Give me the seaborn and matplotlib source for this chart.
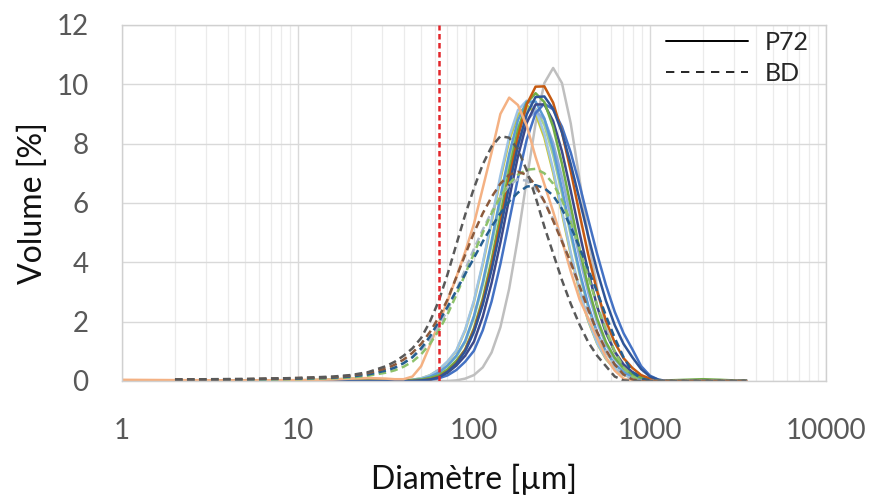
import numpy as np
import pandas as pd
import matplotlib
matplotlib.use("Agg")
import matplotlib.pyplot as plt
import seaborn as sns
from matplotlib.lines import Line2D
from matplotlib.ticker import LogLocator, NullFormatter

sns.set_style("white")
plt.rcParams['font.family'] = ['Lato', 'DejaVu Sans']

# Diamètres (µm) - grille commune à toutes les courbes
diametre_um = [1.0, 2.0, 5.0, 10.0, 15.8, 20.0, 25.1, 31.6, 35.5, 39.8, 44.7,
               50.1, 56.2, 63.1, 70.8, 79.4, 89.1, 100.0, 112.2, 125.9, 141.3,
               158.5, 177.8, 199.5, 223.9, 251.2, 281.8, 316.2, 354.8, 398.1,
               446.7, 501.2, 562.3, 631.0, 707.9, 794.3, 891.3, 1000.0, 1122.0,
               1259.0, 1585.0, 1995.0, 2512.0, 3548.0]

nan = np.nan

# P72 (traits pleins), volume [%]
p72_gris = [0, 0, 0, 0, 0, 0, 0, 0, 0, 0, 0, 0, 0, 0, 0, 0.02, 0.08, 0.20, 0.46, 0.96, 1.81,
            3.11, 4.83, 6.79, 8.68, 10.04, 10.55, 10.04, 8.68, 6.79, 4.83, 3.11, 1.81, 0.96,
            0.46, 0.20, 0.08, 0.02, 0, 0, 0, 0, 0, 0]
p72_orange = [0, 0, 0, 0, 0, 0, 0, 0, 0, 0, 0, 0.02, 0.05, 0.14, 0.32, 0.60, 1.05, 1.72, 2.67,
              3.89, 5.31, 6.82, 8.23, 9.32, 9.92, 9.93, 9.38, 8.38, 7.07, 5.63, 4.24, 3.02, 2.03,
              1.29, 0.77, 0.44, 0.20, 0.08, 0.02, 0, 0, 0, 0, 0]
p72_bleu_fonce = [0, 0, 0, 0, 0, 0, 0, 0, 0, 0, 0, 0.02, 0.05, 0.12, 0.31, 0.58, 1.01, 1.66, 2.58,
                  3.75, 5.12, 6.58, 7.94, 8.99, 9.57, 9.59, 9.17, 8.38, 7.31, 6.11, 4.87, 3.71,
                  2.70, 1.88, 1.25, 0.80, 0.40, 0.15, 0.04, 0, 0, 0, 0, 0]
p72_vert = [0, 0, 0.01, 0.02, 0.05, 0.08, 0.06, 0.03, 0.02, 0.02, 0.03, 0.05, 0.10, 0.19, 0.39,
            0.68, 1.06, 1.78, 2.78, 4.08, 5.58, 7.10, 8.45, 9.37, 9.70, 9.40, 8.56, 7.32, 5.89,
            4.44, 3.15, 2.10, 1.31, 0.78, 0.43, 0.22, 0.11, 0.04, 0.02, 0.02, 0.04, 0.06, 0.04, 0]
p72_saumon = [0.04, 0.03, 0.02, 0.03, 0.05, 0.08, 0.10, 0.08, 0.06, 0.06, 0.15, 0.50, 1.20, 1.95,
              2.70, 3.50, 4.35, 5.30, 6.50, 7.70, 9.00, 9.55, 9.30, 8.60, 7.55, 6.63, 5.71, 4.74,
              3.69, 2.75, 2.10, 1.45, 0.80, 0.35, 0.08, 0, 0, 0, 0, 0, 0, 0, 0, 0]
p72_bleu_clair = [0, 0, 0, 0, 0, 0, 0, 0, 0, 0.02, 0.04, 0.09, 0.19, 0.38, 0.66, 1.03, 1.73, 2.71,
                  3.98, 5.43, 6.92, 8.23, 9.13, 9.45, 9.16, 8.33, 7.13, 5.74, 4.33, 3.07, 2.04,
                  1.28, 0.76, 0.42, 0.22, 0.10, 0.04, 0.01, 0, 0, 0, 0, 0, 0]
p72_bleu_moyen = [0, 0, 0, 0, 0, 0, 0, 0, 0, 0.01, 0.03, 0.06, 0.14, 0.28, 0.52, 0.85, 1.35, 2.19,
                  3.33, 4.71, 6.21, 7.65, 8.79, 9.41, 9.42, 8.85, 7.82, 6.48, 5.04, 3.70, 2.54,
                  1.63, 1.00, 0.57, 0.30, 0.15, 0.06, 0.02, 0, 0, 0, 0, 0, 0]
p72_marine = [0, 0, 0, 0, 0, 0, 0, 0, 0, 0, 0, 0.03, 0.06, 0.14, 0.28, 0.52, 0.85, 1.33, 2.17,
              3.30, 4.66, 6.15, 7.57, 8.70, 9.32, 9.32, 8.76, 7.74, 6.41, 4.99, 3.66, 2.51, 1.62,
              0.99, 0.56, 0.30, 0.15, 0.06, 0.02, 0, 0, 0, 0, 0]
p72_olive = [0, 0, 0, 0, 0, 0, 0, 0, 0, 0.02, 0.04, 0.09, 0.19, 0.37, 0.65, 1.01, 1.70, 2.67, 3.92,
             5.35, 6.81, 8.10, 8.98, 9.30, 9.01, 8.20, 7.02, 5.65, 4.26, 3.02, 2.01, 1.26, 0.74,
             0.41, 0.21, 0.10, 0.04, 0.01, 0, 0, 0, 0, 0, 0]
p72_vert_clair = [0, 0, 0, 0, 0, 0, 0, 0, 0, 0.01, 0.03, 0.06, 0.14, 0.28, 0.51, 0.83, 1.31, 2.14,
                  3.24, 4.59, 6.05, 7.45, 8.56, 9.17, 9.18, 8.62, 7.61, 6.31, 4.91, 3.60, 2.47,
                  1.59, 0.97, 0.56, 0.30, 0.15, 0.06, 0.02, 0, 0, 0, 0, 0, 0]
p72_bleu_gris = [0, 0, 0, 0, 0, 0, 0, 0, 0, 0, 0.02, 0.04, 0.09, 0.18, 0.36, 0.64, 0.99, 1.67, 2.61,
                 3.83, 5.23, 6.66, 7.93, 8.79, 9.10, 8.82, 8.03, 6.87, 5.52, 4.17, 2.96, 1.97, 1.23,
                 0.73, 0.40, 0.21, 0.10, 0.04, 0.01, 0, 0, 0, 0, 0]
p72_bleu = [0, 0, 0, 0, 0, 0, 0, 0, 0, 0, 0, 0.02, 0.04, 0.09, 0.19, 0.37, 0.65, 1.02, 1.71, 2.68,
            3.94, 5.38, 6.84, 8.14, 9.03, 9.35, 9.15, 8.57, 7.70, 6.61, 5.43, 4.28, 3.23, 2.33,
            1.61, 1.07, 0.50, 0.18, 0.04, 0, 0, 0, 0, 0]

# BD (pointillés), volume [%]
bd_gris_fonce = [nan, 0.05, 0.07, 0.10, 0.15, 0.20, 0.30, 0.50, 0.65, 0.85, 1.10, 1.45, 2.00, 2.70,
                 3.60, 4.60, 5.60, 6.50, 7.30, 7.90, 8.25, 8.20, 7.80, 7.10, 6.20, 5.20, 4.30, 3.40,
                 2.60, 1.90, 1.30, 0.85, 0.50, 0.15, 0.02, 0, 0, 0, 0, 0, 0, 0, 0, 0]
bd_brun = [nan, 0.05, 0.06, 0.10, 0.13, 0.18, 0.27, 0.42, 0.55, 0.72, 0.95, 1.25, 1.65, 2.15, 2.75,
           3.50, 4.25, 5.00, 5.65, 6.20, 6.65, 6.95, 7.05, 6.95, 6.60, 6.05, 5.40, 4.70, 4.00, 3.20,
           2.40, 1.65, 1.05, 0.55, 0.22, 0.05, 0, 0, 0, 0, 0, 0, 0, 0]
bd_vert = [nan, 0.03, 0.04, 0.06, 0.09, 0.12, 0.18, 0.28, 0.36, 0.48, 0.65, 0.90, 1.25, 1.70, 2.25,
           2.90, 3.60, 4.30, 5.00, 5.65, 6.20, 6.65, 6.95, 7.12, 7.15, 7.00, 6.65, 6.10, 5.35, 4.45,
           3.50, 2.55, 1.70, 1.00, 0.45, 0.15, 0.03, 0, 0, 0, 0, 0, 0, 0]
bd_bleu = [nan, 0.04, 0.05, 0.08, 0.11, 0.15, 0.22, 0.35, 0.45, 0.60, 0.80, 1.10, 1.50, 2.00, 2.50,
           3.05, 3.60, 4.15, 4.70, 5.20, 5.65, 6.05, 6.35, 6.55, 6.60, 6.50, 6.25, 5.80, 5.20, 4.50,
           3.75, 3.00, 2.20, 1.45, 0.80, 0.30, 0.08, 0.02, 0, 0, 0, 0, 0, 0]
bd_gris_clair = [nan, 0.04, 0.05, 0.08, 0.11, 0.15, 0.22, 0.35, 0.46, 0.60, 0.80, 1.05, 1.40, 1.85,
                 2.40, 3.05, 3.75, 4.45, 5.10, 5.70, 6.20, 6.60, 6.80, 6.75, 6.50, 6.05, 5.45, 4.75,
                 3.95, 3.15, 2.35, 1.60, 1.00, 0.50, 0.20, 0.05, 0, 0, 0, 0, 0, 0, 0, 0]

courbes = [
    ("P72 a", "P72", "#BFBFBF", p72_gris),
    ("P72 b", "P72", "#A9D18E", p72_vert_clair),
    ("P72 c", "P72", "#C8C83C", p72_olive),
    ("P72 d", "P72", "#9DC3E6", p72_bleu_clair),
    ("P72 e", "P72", "#8FAADC", p72_bleu_gris),
    ("P72 f", "P72", "#5B9BD5", p72_bleu_moyen),
    ("P72 g", "P72", "#4472C4", p72_bleu),
    ("P72 h", "P72", "#3C4A8C", p72_marine),
    ("P72 i", "P72", "#70AD47", p72_vert),
    ("P72 j", "P72", "#C55A11", p72_orange),
    ("P72 k", "P72", "#2F5597", p72_bleu_fonce),
    ("P72 l", "P72", "#F4B183", p72_saumon),
    ("BD a", "BD", "#ADB9CA", bd_gris_clair),
    ("BD b", "BD", "#8DC16B", bd_vert),
    ("BD c", "BD", "#255E91", bd_bleu),
    ("BD d", "BD", "#8C5A3C", bd_brun),
    ("BD e", "BD", "#595959", bd_gris_fonce),
]

rows = []
for nom, serie, couleur, valeurs in courbes:
    for d, v in zip(diametre_um, valeurs):
        rows.append((nom, serie, d, v))
df = pd.DataFrame(rows, columns=["courbe", "serie", "d", "v"]).dropna()
palette = {nom: couleur for nom, _, couleur, _ in courbes}

fig, ax = plt.subplots(figsize=(8.74, 4.99), dpi=100)
fig.subplots_adjust(left=0.1396, right=0.945, bottom=0.2365, top=0.95)

sns.lineplot(data=df, x="d", y="v", hue="courbe", style="serie",
             hue_order=[c[0] for c in courbes], palette=palette,
             dashes={"P72": "", "BD": (3, 1.8)}, linewidth=1.8,
             estimator=None, sort=True, legend=False, ax=ax)

ax.axvline(63, color="#E3262B", ls=(0, (2.2, 1.4)), lw=1.8, zorder=10)

ax.set_xscale("log")
ax.set_xlim(1, 10000)
ax.set_ylim(0, 12)
ax.set_yticks(range(0, 13, 2))
ax.set_xticks([1, 10, 100, 1000, 10000])
ax.set_xticklabels(["1", "10", "100", "1000", "10000"])
ax.xaxis.set_minor_locator(LogLocator(base=10, subs=np.arange(2, 10)))
ax.xaxis.set_minor_formatter(NullFormatter())

ax.grid(which="major", color="#D9D9D9", lw=1.0)
ax.grid(which="minor", axis="x", color="#EBEBEB", lw=0.9)
ax.set_axisbelow(True)
for sp in ax.spines.values():
    sp.set_color("#D0D0D0")
    sp.set_linewidth(1.0)

ax.tick_params(axis="both", which="both", length=0, labelsize=20, labelcolor="#595959")
ax.tick_params(axis="x", pad=27)
ax.tick_params(axis="y", pad=24)

ax.set_xlabel("Diamètre [µm]", fontsize=23, color="#111111", labelpad=14)
ax.set_ylabel("Volume [%]", fontsize=23, color="#111111", labelpad=6)

handles = [Line2D([], [], color="black", lw=1.4),
           Line2D([], [], color="black", lw=1.2, ls=(0, (5, 4)))]
ax.legend(handles, ["P72", "BD"], loc="upper left",
          bbox_to_anchor=(0.762, 0.938), bbox_transform=fig.transFigure,
          frameon=False, fontsize=18, handlelength=3.3, handletextpad=0.65,
          labelspacing=0.32, borderpad=0, borderaxespad=0)

fig.savefig("out.png", dpi=100)
